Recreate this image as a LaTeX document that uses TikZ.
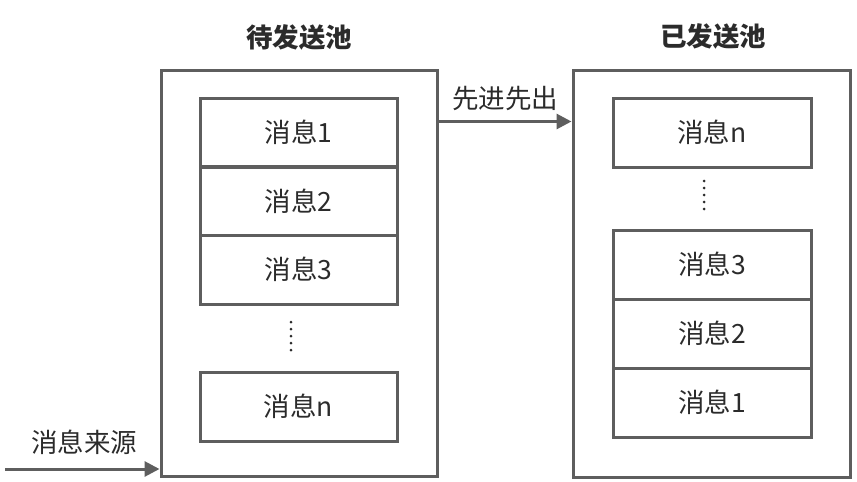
\documentclass[tikz,border=0pt]{standalone}
\usepackage{fontspec}
\setmainfont{Noto Sans CJK SC}
\usetikzlibrary{arrows.meta}
\definecolor{ln}{HTML}{5E5E5E}
\definecolor{tx}{HTML}{2B2B2B}
\tikzset{
  pool/.style={draw=ln, line width=3pt, minimum width=276pt, minimum height=406pt, inner sep=0pt},
  msg/.style={draw=ln, line width=3pt, minimum width=197pt, minimum height=69pt, inner sep=0pt, text=tx, font=\fontsize{26.5}{30}\selectfont},
  lbl/.style={text=tx, font=\fontsize{26.5}{30}\selectfont, inner sep=0pt},
  ttl/.style={text=tx, font=\fontsize{26.5}{30}\selectfont\bfseries, inner sep=0pt},
  arr/.style={draw=ln, line width=3pt, -{Triangle[length=15pt,width=15pt]}},
  dots/.style={draw=tx, line width=3pt, line cap=round, dash pattern=on 0pt off 7pt}
}
\begin{document}
\begin{tikzpicture}[x=1pt,y=-1pt]
\useasboundingbox (0,0) rectangle (857,482);
% titles
\node[ttl] (t1) at (299,37) {待发送池};
\node[ttl] (t2) at (713,36) {已发送池};
% pools
\node[pool] (L) at (299,273) {};
\node[pool, minimum width=277pt, minimum height=407pt] (R) at (711.5,273.5) {};
% left messages
\node[msg] (l1) at (298.5,132.5) {消息1};
\node[msg] (l2) at (298.5,201) {消息2};
\node[msg] (l3) at (298.5,269.5) {消息3};
\node[msg] (ln) at (298.5,406.5) {消息n};
\coordinate (ld1) at (291,322);
\coordinate (ld2) at (291,357);
\draw[dots] (ld1) -- (ld2);
% right messages
\node[msg, minimum width=198pt] (rn) at (712,132.5) {消息n};
\node[msg, minimum width=198pt] (r3) at (712,264.5) {消息3};
\node[msg, minimum width=198pt] (r2) at (712,333.5) {消息2};
\node[msg, minimum width=198pt] (r1) at (712,402.5) {消息1};
\coordinate (rd1) at (704,181);
\coordinate (rd2) at (704,216);
\draw[dots] (rd1) -- (rd2);
% arrows
\draw[arr] ([yshift=-53pt]L.north east) -- ([yshift=-53pt]R.north west);
\node[lbl] (fifo) at (505,98) {先进先出};
\coordinate (src) at (5,469);
\draw[arr] (src) -- (src -| L.west);
\node[lbl] (srcl) at (84,442) {消息来源};
\end{tikzpicture}
\end{document}
